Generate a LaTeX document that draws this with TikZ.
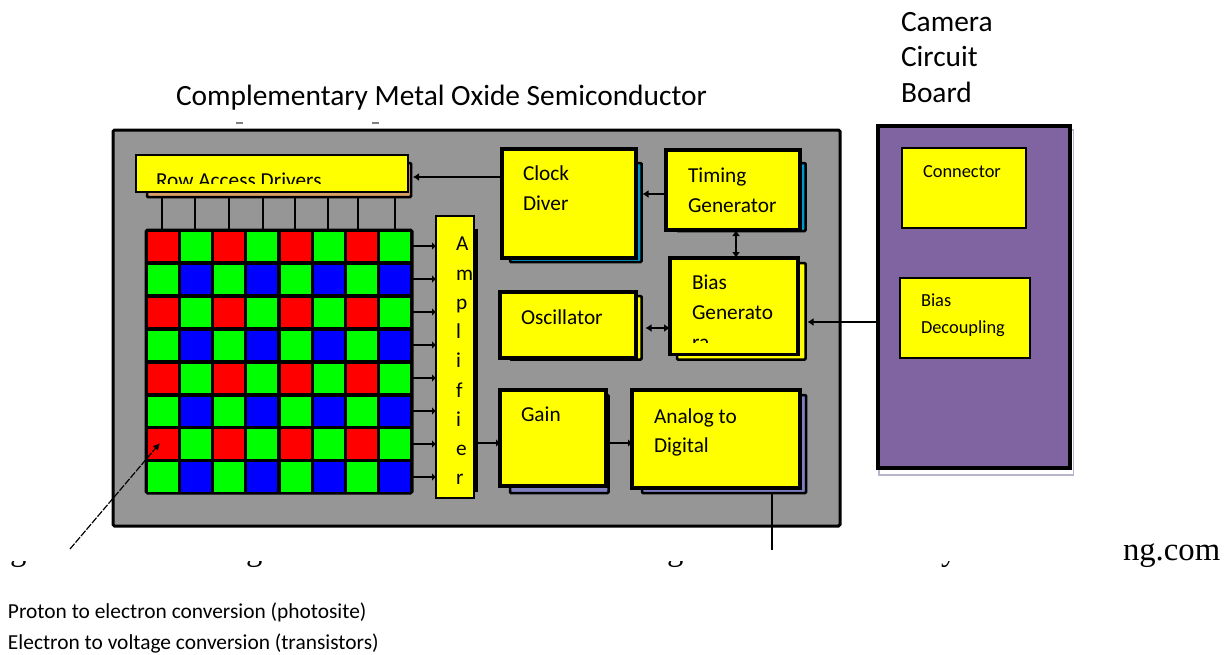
\documentclass[tikz,border=0pt]{standalone}
\usepackage{fontspec}
\setmainfont{Carlito}
\newfontfamily\timesf{Liberation Serif}
\usetikzlibrary{arrows.meta,positioning}
\definecolor{chipgray}{RGB}{150,150,150}
\definecolor{boardpurple}{RGB}{128,100,162}
\definecolor{sbluec}{RGB}{0,153,204}
\definecolor{stan}{RGB}{217,160,102}
\definecolor{sviolet}{RGB}{127,127,191}
\definecolor{rshadow}{RGB}{184,180,204}
\definecolor{pyellow}{RGB}{255,255,0}
\definecolor{pred}{RGB}{255,0,0}
\definecolor{pgreen}{RGB}{0,255,0}
\definecolor{pblue}{RGB}{0,0,255}
\tikzset{
  pbox/.style={rectangle,draw=black,line width=#1,inner sep=0pt,outer sep=0pt},
  lbl/.style={anchor=base west,inner sep=0pt,outer sep=0pt,text=black},
  wire/.style={draw=black,line width=1.2pt},
  arr/.style={draw=black,line width=1.2pt,-{Latex[length=6pt,width=8pt]}},
  darr/.style={draw=black,line width=1.2pt,{Latex[length=6pt,width=8pt]}-{Latex[length=6pt,width=8pt]}},
  stub/.style={draw=black,line width=1.2pt,-{Latex[length=4pt,width=8pt]}},
  bigtxt/.style={font=\fontsize{29.4}{29.4}\selectfont},
  midtxt/.style={font=\fontsize{21.3}{21.3}\selectfont},
  smalltxt/.style={font=\fontsize{21.4}{21.4}\selectfont},
  captxt/.style={font=\fontsize{18.4}{18.4}\selectfont},
  tms/.style={font=\timesf\fontsize{32.7}{32.7}\selectfont},
}
% name, x1, y1, x2, y2, line width, fill
\newcommand{\mybox}[7]{%
  \pgfmathsetmacro{\bw}{#4-#2}\pgfmathsetmacro{\bh}{#5-#3}%
  \pgfmathsetmacro{\bx}{(#4+#2)/2}\pgfmathsetmacro{\by}{(#5+#3)/2}%
  \node[pbox=#6,fill=#7,minimum width=\bw pt,minimum height=\bh pt] (#1) at (\bx,\by) {};}
\begin{document}
\begin{tikzpicture}[x=1pt,y=-1pt]
\useasboundingbox (0,0) rectangle (1229,654);
% chip
\mybox{chip}{113}{130}{840}{526}{3pt,rounded corners=1.5pt}{chipgray}
% row drivers
\mybox{rowS}{147}{163}{411}{197}{2.5pt,rounded corners=1pt}{stan}
\mybox{row}{136}{155}{408}{192}{2.5pt}{pyellow}
\begin{scope}
\clip (137,156) rectangle (407,183);
\node[lbl,midtxt] (rowT) at (156,187) {Row Access Drivers};
\end{scope}
% pixel grid
\mybox{grid}{146}{230}{412}{493}{3pt,rounded corners=1.5pt}{black}
\foreach \r in {0,...,7}{\foreach \c in {0,...,7}{
  \pgfmathsetmacro{\px}{147.8+\c*33.2}
  \pgfmathsetmacro{\py}{232+\r*32.9}
  \pgfmathtruncatemacro{\kr}{mod(\r,2)}
  \pgfmathtruncatemacro{\kc}{mod(\c,2)}
  \ifnum\kr=0 \ifnum\kc=0 \def\cc{pred}\else\def\cc{pgreen}\fi
  \else \ifnum\kc=0 \def\cc{pgreen}\else\def\cc{pblue}\fi\fi
  \fill[\cc] (\px,\py) rectangle ++(30,29.2);
}}
% column lines
\foreach \xx in {162,195,229,263,295,328,358,395}{
  \draw[wire] (rowS.south -| \xx,0) -- (grid.north -| \xx,0);
}
% amplifier
\mybox{ampS}{445}{230}{476.5}{491}{2.5pt}{black}
\mybox{amp}{436}{216}{474}{498}{2pt}{pyellow}
\foreach \t/\yy in {A/250,m/280,p/309,l/338,i/367,f/397,i/426,e/455,r/484}{
  \node[lbl,midtxt] at (456,\yy) {\t};
}
\foreach \yy in {246,279,312,345,378,411,444,477}{
  \draw[stub] (grid.east |- 0,\yy) -- (amp.west |- 0,\yy);
}
% clock
\mybox{clockS}{510}{163}{641.5}{262}{2.5pt,rounded corners=1pt}{sbluec}
\mybox{clock}{502}{149}{636}{258}{3.5pt}{pyellow}
\node[lbl,midtxt] (clockA) at (523,180) {Clock};
\node[lbl,midtxt] (clockB) at (523,210) {Diver};
% timing
\mybox{timeS}{677}{163}{805.5}{231}{2.5pt,rounded corners=1pt}{sbluec}
\mybox{time}{666}{150}{800}{230}{3.5pt}{pyellow}
\node[lbl,midtxt] (timeA) at (688,182) {Timing};
\node[lbl,midtxt] (timeB) at (688,212) {Generator};
% bias generator
\mybox{biasS}{677}{263}{805.5}{359.5}{2.5pt,rounded corners=1pt}{pyellow}
\mybox{bias}{670}{258}{798}{354.5}{3.5pt}{pyellow}
\begin{scope}
\clip (672,260) rectangle (796,342);
\node[lbl,midtxt] (biasA) at (692,289) {Bias};
\node[lbl,midtxt] (biasB) at (692,319) {Generato};
\node[lbl,midtxt] (biasC) at (692,349) {ra};
\end{scope}
% oscillator
\mybox{oscS}{510}{296}{641.5}{359.5}{2.5pt,rounded corners=1pt}{pyellow}
\mybox{osc}{500}{292}{636}{358}{3.5pt}{pyellow}
\node[lbl,midtxt] (oscT) at (521,324) {Oscillator};
% gain
\mybox{gainS}{510}{395}{608.5}{493}{2.5pt,rounded corners=1pt}{sviolet}
\mybox{gain}{500}{390}{606}{486}{3.5pt}{pyellow}
\node[lbl,midtxt] (gainT) at (521,421) {Gain};
% analog
\mybox{adcS}{642}{395}{806}{493}{2.5pt,rounded corners=1pt}{sviolet}
\mybox{adc}{632}{390}{800}{488}{3.5pt}{pyellow}
\node[lbl,midtxt] (adcA) at (654,423) {Analog to};
\node[lbl,midtxt] (adcB) at (654,452) {Digital};
% board
\mybox{boardS}{879}{130}{1073.5}{475}{1.5pt,draw=rshadow}{white}
\mybox{board}{878}{126}{1070}{468}{3.5pt}{boardpurple}
\mybox{conn}{902}{148}{1026}{228}{2pt}{pyellow}
\mybox{dec}{900}{278}{1030}{358}{2pt}{pyellow}
\node[lbl,captxt] (connT) at (923,177) {Connector};
\node[lbl,captxt] (decA) at (921,306) {Bias};
\node[lbl,captxt] (decB) at (921,333) {Decoupling};
% connectors
\draw[arr] (clock.west |- 0,177) -- ([xshift=2pt]rowS.east |- 0,177);
\draw[arr] (time.west |- 0,194) -- ([xshift=1pt]clockS.east |- 0,194);
\draw[darr] (time.south -| 736,0) -- (bias.north -| 736,0);
\draw[darr] ([xshift=4pt]oscS.east |- 0,328) -- (bias.west |- 0,328);
\draw[arr] (board.west |- 0,322) -- ([xshift=2pt]biasS.east |- 0,322);
\draw[stub] (amp.east |- 0,443) -- (gain.west |- 0,443);
\draw[stub] (gain.east |- 0,443) -- (adc.west |- 0,443);
\coordinate (adcEnd) at (772,550);
\draw[wire] (adcS.south -| adcEnd) -- (adcEnd);
\coordinate (pointerEnd) at (70,549);
\coordinate (pointerTip) at (160,443);
\draw[draw=black,line width=1.2pt,dash pattern=on 7pt off 1.5pt,-{Latex[length=7pt,width=7pt]}] (pointerEnd) -- (pointerTip);
% titles
\node[lbl,bigtxt] (title) at (176,105) {Complementary Metal Oxide Semiconductor};
\node[lbl,bigtxt] (camA) at (901,31) {Camera};
\node[lbl,bigtxt] (camB) at (901,66) {Circuit};
\node[lbl,bigtxt] (camC) at (901,102) {Board};
% clipped fragments
\fill[gray] (236,122) rectangle (243,123.5);
\fill[gray] (372,122) rectangle (379,123.5);
\begin{scope}
\clip (0,561.5) rectangle (1110,580);
\node[lbl,tms] at (10,560) {g};
\node[lbl,tms] at (246,560) {g};
\node[lbl,tms] at (667,560) {g};
\node[lbl,tms] at (941,560) {y};
\end{scope}
\node[lbl,tms] (ngcom) at (1123,560) {ng.com};
% bottom text
\node[lbl,smalltxt] (lineA) at (8,618) {Proton to electron conversion (photosite)};
\node[lbl,smalltxt] (lineB) at (8,649) {Electron to voltage conversion (transistors)};
\end{tikzpicture}
\end{document}
